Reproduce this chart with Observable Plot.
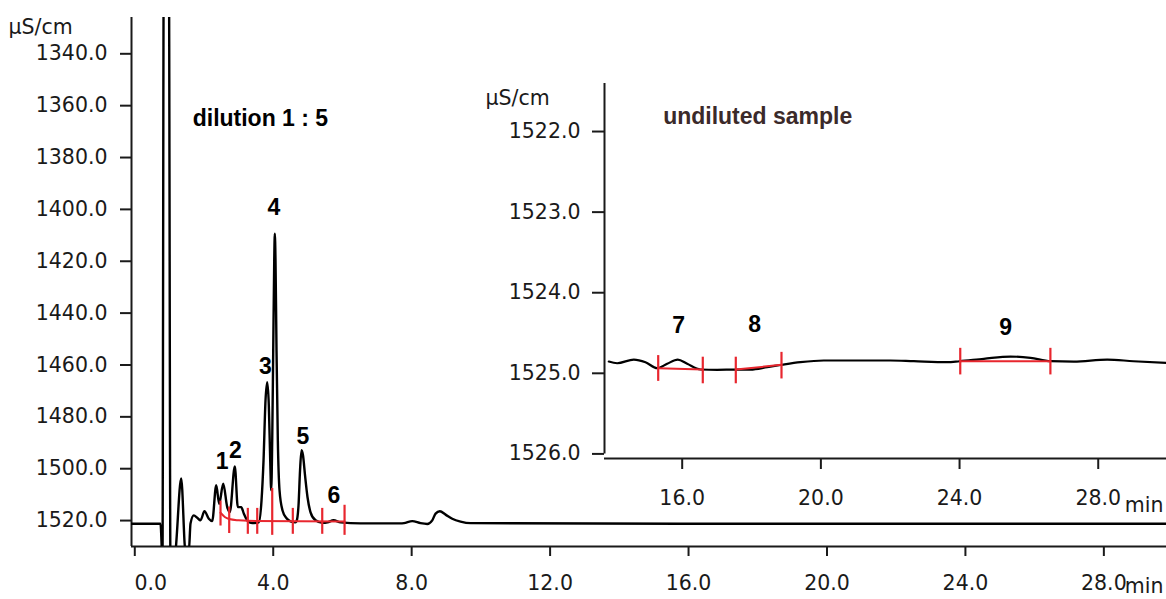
<!DOCTYPE html>
<html>
<head>
<meta charset="utf-8">
<script src="https://cdn.jsdelivr.net/npm/d3@7"></script>
<script src="https://cdn.jsdelivr.net/npm/@observablehq/plot@0.6"></script>
<style>
  html, body { margin: 0; padding: 0; background: #ffffff; }
  #wrap { position: relative; width: 1166px; height: 599px; }
  #wrap svg { position: absolute; left: 0; top: 0; }
</style>
</head>
<body>
<div id="wrap"></div>
<script>
// ---------- main chromatogram (dilution 1 : 5) ----------
const mainXDomain = [-0.095, 29.81];
const mainYDomain = [1326, 1530];
const mainXTicks = [0, 4, 8, 12, 16, 20, 24, 28];
const mainYTicks = [1340, 1360, 1380, 1400, 1420, 1440, 1460, 1480, 1500, 1520];

const mainTime = [-0.095, 0.743, 0.80, 0.838, 0.983, 1.032, 1.061, 1.176, 1.341, 1.465, 1.561, 1.61,
  1.705, 1.803, 1.899, 2.014, 2.139, 2.237, 2.353, 2.439, 2.555, 2.671, 2.746, 2.890, 2.977, 3.075, 3.150, 3.266, 3.393,
  3.584, 3.662, 3.720, 3.777, 3.827, 3.873, 3.913, 3.942,
  3.971, 4.0, 4.029, 4.046, 4.066, 4.095, 4.133, 4.182, 4.269, 4.384, 4.5, 4.645,
  4.673, 4.731, 4.775, 4.818, 4.861, 4.919, 4.991, 5.078, 5.223, 5.425,
  5.569, 5.743, 5.945, 6.523, 7.679, 7.775, 8.017, 8.257, 8.451, 8.595, 8.691, 8.815, 8.980, 9.173, 9.413, 9.702, 15.77, 29.81];
const mainValue = [1521.2, 1521.2, 1535, 1300, 1300, 1540, 1540, 1532, 1503.8, 1532, 1532, 1521.1,
  1518.0, 1518.9, 1519.9, 1516.4, 1519.3, 1520.2, 1506.4, 1513.5, 1505.8, 1514.8, 1516.7, 1499.1, 1514.8, 1514.8, 1517.3, 1520.2, 1521.0,
  1520.7, 1512.2, 1496.8, 1473.7, 1466.6, 1475.6, 1496.8, 1508.3,
  1489.0, 1454.3, 1419.7, 1409.4, 1419.7, 1454.3, 1489.0, 1508.3, 1516.1, 1519.1, 1520.3, 1520.7,
  1520.3, 1514.1, 1500.6, 1492.9, 1494.9, 1502.6, 1511.0, 1516.8, 1519.9, 1520.9,
  1520.7, 1519.9, 1520.7, 1521.1, 1521.1, 1521.0, 1520.2, 1521.0, 1521.3, 1519.9, 1517.3, 1516.4, 1517.7, 1519.3, 1520.4, 1521.0, 1521.2, 1521.2];

const peakLabels = ["1", "2", "3", "4", "5", "6"];
const peakLabelTime = [2.526, 2.910, 3.777, 4.017, 4.855, 5.751];
const peakLabelValue = [1497.4, 1492.9, 1460.5, 1399.4, 1487.5, 1510.3];

const mainRedTickTime = [2.477, 2.728, 3.266, 3.538, 3.971, 4.566, 5.416, 6.061];
const mainRedTickTop = [1512.5, 1514.8, 1515.3, 1515.3, 1507.6, 1515.3, 1515.3, 1514.1];
const mainRedTickBottom = [1522.1, 1525.0, 1525.3, 1525.3, 1525.7, 1525.3, 1525.3, 1525.7];
const mainRedBaseTime = [2.477, 2.60, 2.728, 3.0, 3.266, 6.061];
const mainRedBaseValue = [1517.0, 1518.6, 1519.4, 1519.9, 1520.1, 1520.4];

const mainTitle = ["dilution 1 : 5"];
const mainTitleTime = [1.673];
const mainTitleValue = [1364.9];

// ---------- inset (undiluted sample) ----------
const insetXDomain = [13.759, 29.969];
const insetYDomain = [1521.404, 1526.057];
const insetXTicks = [16, 20, 24, 28];
const insetYTicks = [1522, 1523, 1524, 1525, 1526];

const insetTime = [13.883, 14.125, 14.604, 14.941, 15.279, 15.567, 15.873, 16.144, 16.528, 17.01, 17.537, 17.97,
  18.452, 18.884, 19.412, 20.084, 21.048, 22.008, 22.68, 23.644, 23.998, 24.699, 25.469, 26.046, 26.623, 27.295, 28.259, 29.017, 29.969];
const insetValue = [1524.854, 1524.875, 1524.829, 1524.862, 1524.937, 1524.882, 1524.829, 1524.882, 1524.953, 1524.957, 1524.953, 1524.953,
  1524.924, 1524.894, 1524.862, 1524.841, 1524.841, 1524.841, 1524.850, 1524.862, 1524.850, 1524.820, 1524.792, 1524.808, 1524.850, 1524.854, 1524.829, 1524.850, 1524.870];

const insetLabels = ["7", "8", "9"];
const insetLabelTime = [15.90, 18.09, 25.33];
const insetLabelValue = [1524.41, 1524.40, 1524.43];

const insetRedTickTime = [15.308, 16.594, 17.546, 18.864, 24.02, 26.62];
const insetRedTickTop = [1524.78, 1524.80, 1524.80, 1524.74, 1524.69, 1524.69];
const insetRedTickBottom = [1525.10, 1525.13, 1525.13, 1525.07, 1525.02, 1525.02];
const insetRedBaseTime = [15.308, 16.594, 17.546, 18.864, 24.02, 26.62];
const insetRedBaseValue = [1524.937, 1524.953, 1524.953, 1524.895, 1524.85, 1524.85];
const insetRedBaseSeg = ["7", "7", "8", "8", "9", "9"];

const insetTitle = ["undiluted sample"];
const insetTitleTime = [15.45];
const insetTitleValue = [1521.82];

// ---------- build tables ----------
const mainTrace = mainTime.map((t, i) => ({t, v: mainValue[i]}));
const mainPeaks = peakLabels.map((s, i) => ({s, t: peakLabelTime[i], v: peakLabelValue[i]}));
const mainRedTicks = mainRedTickTime.map((t, i) => ({t, top: mainRedTickTop[i], bot: mainRedTickBottom[i]}));
const mainRedBase = mainRedBaseTime.map((t, i) => ({t, v: mainRedBaseValue[i]}));
const insetTrace = insetTime.map((t, i) => ({t, v: insetValue[i]}));
const insetPeaks = insetLabels.map((s, i) => ({s, t: insetLabelTime[i], v: insetLabelValue[i]}));
const insetRedTicks = insetRedTickTime.map((t, i) => ({t, top: insetRedTickTop[i], bot: insetRedTickBottom[i]}));
const insetRedBase = insetRedBaseTime.map((t, i) => ({t, v: insetRedBaseValue[i], seg: insetRedBaseSeg[i]}));

const INK = "#1a1a1a";
const RED = "#e8262e";
const tickFont = "DejaVu Sans, Verdana, sans-serif";
const boldFont = "Liberation Sans, Arial, sans-serif";

const mainPlot = Plot.plot({
  width: 1166, height: 599,
  marginLeft: 131, marginRight: 0, marginTop: 17, marginBottom: 53,
  x: {domain: mainXDomain},
  y: {domain: mainYDomain, reverse: true},
  style: {fontFamily: tickFont, fontSize: "20.5px", color: INK, background: "transparent", overflow: "visible"},
  marks: [
    Plot.axisY({ticks: mainYTicks, tickFormat: d => d.toFixed(1), tickSize: 11, tickPadding: 13, strokeWidth: 2, fontSize: 20.5, label: null}),
    Plot.axisX({ticks: mainXTicks, tickFormat: d => d === 0 ? "" : d.toFixed(1), tickSize: 10, tickPadding: 19, strokeWidth: 2, fontSize: 20.5, label: null}),
    Plot.text(mainXTicks.filter(d => d === 0), {x: d => d, frameAnchor: "bottom", dy: 37, dx: 16, text: d => d.toFixed(1), lineAnchor: "middle", fontSize: 20.5}),
    Plot.ruleX([mainXDomain[0]], {stroke: INK, strokeWidth: 2}),
    Plot.ruleY([mainYDomain[1]], {stroke: INK, strokeWidth: 2}),
    Plot.line(mainTrace, {x: "t", y: "v", stroke: "#000", strokeWidth: 2.4, curve: "monotone-x", clip: true}),
    Plot.line(mainRedBase, {x: "t", y: "v", stroke: RED, strokeWidth: 2, curve: "monotone-x"}),
    Plot.ruleX(mainRedTicks, {x: "t", y1: "top", y2: "bot", stroke: RED, strokeWidth: 2.2}),
    Plot.text(mainPeaks, {x: "t", y: "v", text: "s", fontFamily: boldFont, fontWeight: "bold", fontSize: 23, fill: "#000"}),
    Plot.text(mainTitle, {x: mainTitleTime, y: mainTitleValue, text: d => d, textAnchor: "start", fontFamily: boldFont, fontWeight: "bold", fontSize: 23, fill: "#000"}),
    Plot.text(["µS/cm"], {frameAnchor: "top-left", dx: -123, dy: 10, text: d => d, textAnchor: "start", lineAnchor: "middle", fontSize: 20.5}),
    Plot.text(["min"], {frameAnchor: "bottom-right", dy: 40, dx: -3, text: d => d, textAnchor: "end", lineAnchor: "middle", fontSize: 20.5})
  ]
});

const insetPlot = Plot.plot({
  width: 1166, height: 599,
  marginLeft: 604, marginRight: 0, marginTop: 83, marginBottom: 141,
  x: {domain: insetXDomain},
  y: {domain: insetYDomain, reverse: true},
  style: {fontFamily: tickFont, fontSize: "20.5px", color: INK, background: "transparent", overflow: "visible", pointerEvents: "none"},
  marks: [
    Plot.axisY({ticks: insetYTicks, tickFormat: d => d.toFixed(1), tickSize: 12, tickPadding: 12, strokeWidth: 2, fontSize: 20.5, label: null}),
    Plot.axisX({ticks: insetXTicks, tickFormat: d => d.toFixed(1), tickSize: 11, tickPadding: 20.5, strokeWidth: 2, fontSize: 20.5, label: null}),
    Plot.ruleX([insetXDomain[0]], {y1: insetYDomain[0], y2: insetYTicks[insetYTicks.length - 1], stroke: INK, strokeWidth: 2}),
    Plot.ruleY([insetYDomain[1]], {stroke: INK, strokeWidth: 2}),
    Plot.line(insetTrace, {x: "t", y: "v", stroke: "#000", strokeWidth: 2.2, curve: "monotone-x", clip: true}),
    Plot.line(insetRedBase, {x: "t", y: "v", z: "seg", stroke: RED, strokeWidth: 2}),
    Plot.ruleX(insetRedTicks, {x: "t", y1: "top", y2: "bot", stroke: RED, strokeWidth: 2.2}),
    Plot.text(insetPeaks, {x: "t", y: "v", text: "s", fontFamily: boldFont, fontWeight: "bold", fontSize: 23, fill: "#000"}),
    Plot.text(insetTitle, {x: insetTitleTime, y: insetTitleValue, text: d => d, textAnchor: "start", fontFamily: boldFont, fontWeight: "bold", fontSize: 23, fill: "#3b2a2a"}),
    Plot.text(["µS/cm"], {frameAnchor: "top-left", dx: -119, dy: 15, text: d => d, textAnchor: "start", lineAnchor: "middle", fontSize: 20.5}),
    Plot.text(["min"], {frameAnchor: "bottom-right", dy: 47, dx: -3, text: d => d, textAnchor: "end", lineAnchor: "middle", fontSize: 20.5})
  ]
});

const wrap = document.getElementById("wrap");
wrap.appendChild(mainPlot);
wrap.appendChild(insetPlot);
</script>
</body>
</html>
